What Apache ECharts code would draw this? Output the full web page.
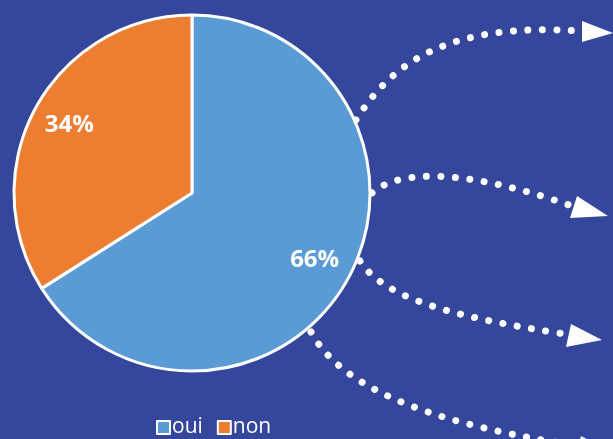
<!DOCTYPE html>
<html>
<head>
<meta charset="utf-8">
<style>
html,body{margin:0;padding:0;background:#34479D;}
#main{width:613px;height:439px;}
</style>
<script src="https://cdn.jsdelivr.net/npm/echarts@6/dist/echarts.min.js"></script>
</head>
<body>
<div id="main"></div>
<script>
var categories = ['oui', 'non'];
var values = [66, 34];
var colors = ['#5B9BD5', '#ED7D31'];

var chart = echarts.init(document.getElementById('main'), null, {renderer: 'canvas'});

function dotted(x1, y1, c1x, c1y, c2x, c2y, x2, y2) {
  return {
    type: 'bezierCurve',
    silent: true,
    z: 1,
    shape: {x1: x1, y1: y1, cpx1: c1x, cpy1: c1y, cpx2: c2x, cpy2: c2y, x2: x2, y2: y2},
    style: {stroke: '#ffffff', lineWidth: 7, lineDash: [0.01, 14.5], lineCap: 'round', fill: null}
  };
}
function head(pts) {
  return {type: 'polygon', silent: true, z: 1, shape: {points: pts}, style: {fill: '#ffffff'}};
}

var pieData = categories.map(function (c, i) {
  return {name: c, value: values[i], itemStyle: {color: colors[i]}};
});

chart.setOption({
  backgroundColor: '#34479D',
  animation: false,
  legend: {
    data: categories,
    left: 151,
    top: 412,
    itemWidth: 13,
    itemHeight: 13,
    itemGap: 14,
    icon: 'rect',
    itemStyle: {borderColor: '#ffffff', borderWidth: 2},
    textStyle: {color: '#ffffff', fontSize: 21, fontFamily: 'Open Sans', padding: [0, 0, 0, -3]}
  },
  graphic: [
    dotted(356, 120, 392, 62, 450, 22, 580, 31),
    head([[582, 21], [582, 42], [613, 33]]),
    dotted(372, 193, 400, 168, 470, 170, 572, 206),
    head([[577, 196], [570, 218], [608, 216]]),
    dotted(360, 261, 385, 300, 460, 318, 565, 334),
    head([[571, 324], [566, 347], [602, 340]]),
    dotted(311, 332, 340, 385, 420, 420, 560, 443),
    head([[581, 436], [576, 457], [613, 453]])
  ],
  series: [
    {
      type: 'pie',
      center: [192, 193],
      radius: [0, 178],
      startAngle: 90,
      clockwise: true,
      z: 2,
      label: {show: false},
      labelLine: {show: false},
      itemStyle: {borderColor: '#ffffff', borderWidth: 3},
      emphasis: {disabled: true},
      data: pieData
    },
    {
      type: 'pie',
      center: [192, 193],
      radius: [96, 178],
      startAngle: 90,
      clockwise: true,
      z: 3,
      silent: true,
      itemStyle: {color: 'rgba(0,0,0,0)'},
      label: {
        show: true,
        position: 'inside',
        formatter: function (p) { return p.value + '%'; },
        color: '#ffffff',
        fontSize: 24,
        fontWeight: 'bold',
        fontFamily: 'Open Sans',
        textBorderWidth: 0
      },
      labelLine: {show: false},
      emphasis: {disabled: true},
      data: categories.map(function (c, i) {
        return {name: c, value: values[i], itemStyle: {color: 'rgba(0,0,0,0)'}};
      })
    }
  ]
});
</script>
</body>
</html>
